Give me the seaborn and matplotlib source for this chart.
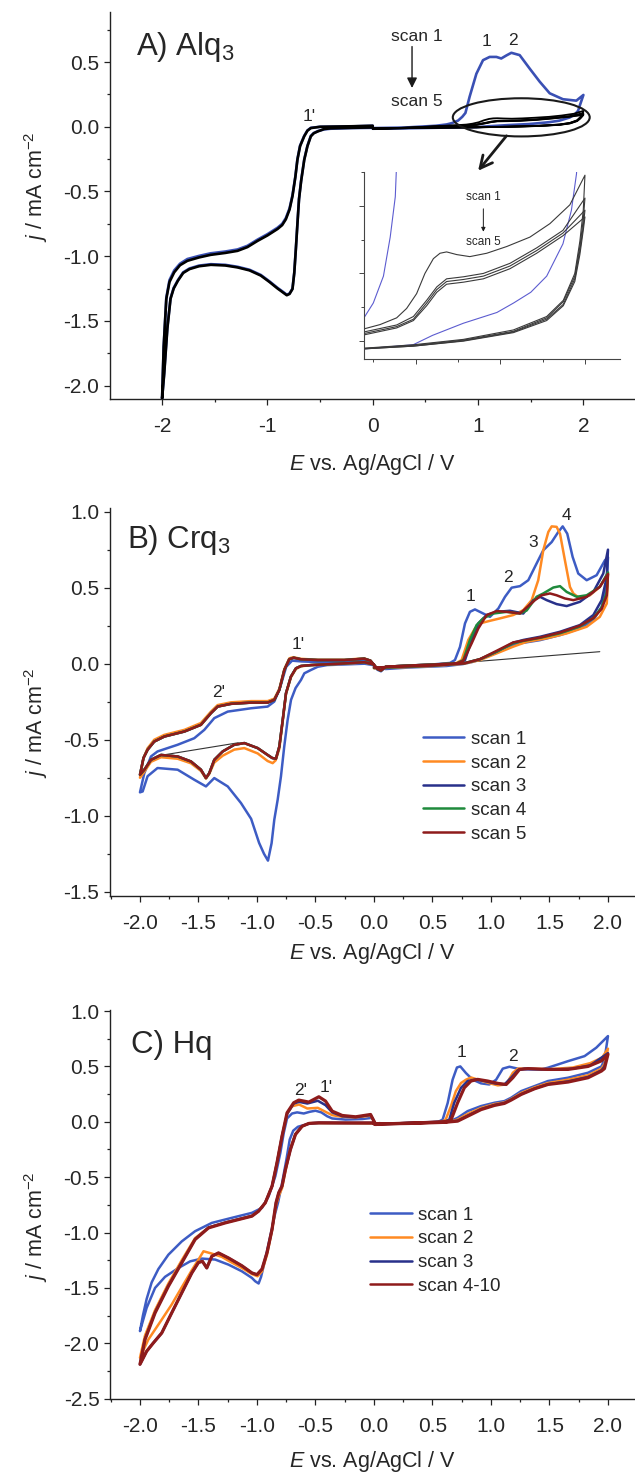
import numpy as np
import matplotlib
matplotlib.use("Agg")
import matplotlib.pyplot as plt
import seaborn as sns
from matplotlib.patches import Ellipse
from matplotlib.lines import Line2D
from matplotlib.ticker import MultipleLocator, FuncFormatter

# ------------------------------------------------------------------
# Cyclic voltammograms, (E / V vs Ag/AgCl, j / mA cm^-2) pairs.
# Each scan is stored as four sweeps: cathodic (0 -> -2 V),
# return (-2 -> 0 V), anodic (0 -> 2 V) and return (2 -> 0 V).
# ------------------------------------------------------------------

# ---------------- A) Alq3 ----------------
alq3_s1_cath = [(0.00, -0.008), (-0.20, -0.010), (-0.40, -0.015), (-0.46, -0.020), (-0.52, -0.033),
                (-0.56, -0.048), (-0.588, -0.070), (-0.62, -0.145), (-0.65, -0.250), (-0.68, -0.415),
                (-0.70, -0.555), (-0.715, -0.745), (-0.73, -0.940), (-0.745, -1.125), (-0.762, -1.250),
                (-0.790, -1.288), (-0.816, -1.298), (-0.840, -1.283), (-0.87, -1.265), (-0.904, -1.245),
                (-0.98, -1.195), (-1.063, -1.145), (-1.17, -1.105), (-1.284, -1.082), (-1.40, -1.067),
                (-1.537, -1.062), (-1.65, -1.073), (-1.740, -1.095), (-1.80, -1.125), (-1.850, -1.185),
                (-1.890, -1.245), (-1.920, -1.325), (-1.950, -1.550), (-1.980, -1.900), (-2.000, -2.100)]
alq3_s1_anod = [(-2.000, -2.100), (-1.985, -1.700), (-1.960, -1.320), (-1.930, -1.185), (-1.885, -1.110),
                (-1.83, -1.058), (-1.760, -1.022), (-1.65, -0.998), (-1.540, -0.978), (-1.40, -0.964),
                (-1.284, -0.948), (-1.19, -0.920), (-1.094, -0.872), (-1.0, -0.830), (-0.904, -0.780),
                (-0.86, -0.750), (-0.825, -0.705), (-0.79, -0.630), (-0.762, -0.528), (-0.735, -0.385),
                (-0.715, -0.248), (-0.69, -0.145), (-0.651, -0.070), (-0.62, -0.028), (-0.588, -0.008),
                (-0.50, 0.000), (-0.20, 0.003), (0.00, 0.008)]
alq3_s1_fwd = [(0.00, -0.010), (0.30, -0.006), (0.60, 0.008), (0.70, 0.018), (0.75, 0.028), (0.81, 0.048),
               (0.85, 0.077), (0.88, 0.107), (0.92, 0.233), (0.984, 0.410), (1.047, 0.515), (1.110, 0.540),
               (1.174, 0.540), (1.220, 0.528), (1.270, 0.552), (1.316, 0.572), (1.395, 0.554), (1.490, 0.450),
               (1.585, 0.349), (1.680, 0.259), (1.806, 0.213), (1.933, 0.202), (2.000, 0.246)]
alq3_s1_rev = [(2.000, 0.246), (1.960, 0.150), (1.950, 0.124), (1.920, 0.097), (1.870, 0.072), (1.774, 0.048),
               (1.680, 0.036), (1.578, 0.028), (1.480, 0.021), (1.282, 0.013), (1.100, 0.004), (0.985, -0.003),
               (0.700, -0.006), (0.300, -0.012), (0.000, -0.015)]

# scans 2-5 overlap in the cathodic region
alq3_late_cath = [(0.00, -0.005), (-0.20, -0.008), (-0.40, -0.012), (-0.46, -0.017), (-0.52, -0.035),
                  (-0.56, -0.050), (-0.588, -0.074), (-0.62, -0.150), (-0.65, -0.254), (-0.68, -0.420),
                  (-0.70, -0.560), (-0.715, -0.750), (-0.73, -0.946), (-0.745, -1.130), (-0.762, -1.254),
                  (-0.790, -1.292), (-0.816, -1.302), (-0.840, -1.288), (-0.87, -1.270), (-0.904, -1.250),
                  (-0.98, -1.200), (-1.063, -1.150), (-1.17, -1.110), (-1.284, -1.087), (-1.40, -1.072),
                  (-1.537, -1.067), (-1.65, -1.078), (-1.740, -1.100), (-1.80, -1.130), (-1.850, -1.190),
                  (-1.890, -1.250), (-1.920, -1.330), (-1.950, -1.560), (-1.980, -1.910), (-2.000, -2.100)]
alq3_late_anod = [(-2.000, -2.100), (-1.985, -1.700), (-1.960, -1.330), (-1.930, -1.200), (-1.885, -1.125),
                  (-1.83, -1.070), (-1.760, -1.036), (-1.65, -1.010), (-1.540, -0.990), (-1.40, -0.975),
                  (-1.284, -0.959), (-1.19, -0.930), (-1.094, -0.882), (-1.0, -0.840), (-0.904, -0.790),
                  (-0.86, -0.760), (-0.825, -0.715), (-0.79, -0.640), (-0.762, -0.536), (-0.735, -0.390),
                  (-0.715, -0.254), (-0.69, -0.150), (-0.651, -0.074), (-0.62, -0.030), (-0.588, -0.010),
                  (-0.50, 0.000), (-0.20, 0.004), (0.00, 0.008)]

alq3_s2_fwd = [(0.00, -0.014), (0.35, -0.006), (0.701, 0.009), (0.79, 0.012), (0.888, 0.017), (0.947, 0.024),
               (1.006, 0.035), (1.055, 0.050), (1.105, 0.061), (1.144, 0.065), (1.183, 0.066), (1.243, 0.064),
               (1.32, 0.0625), (1.42, 0.065), (1.538, 0.070), (1.675, 0.077), (1.793, 0.087), (1.911, 0.101),
               (2.0, 0.123)]
alq3_s2_rev = [(2.0, 0.123), (1.99, 0.097), (1.97, 0.074), (1.94, 0.050), (1.872, 0.030), (1.774, 0.018),
               (1.577, 0.008), (1.282, 0.001), (0.987, -0.003), (0.70, -0.0055), (0.35, -0.010), (0.0, -0.014)]
alq3_s3_fwd = [(0.00, -0.014), (0.35, -0.007), (0.701, 0.0067), (0.888, 0.0117), (0.987, 0.018), (1.065, 0.030),
               (1.125, 0.040), (1.183, 0.046), (1.282, 0.0475), (1.40, 0.050), (1.557, 0.0575), (1.715, 0.069),
               (1.87, 0.082), (2.0, 0.106)]
alq3_s3_rev = [(2.0, 0.106), (1.99, 0.090), (1.97, 0.070), (1.94, 0.048), (1.872, 0.029), (1.774, 0.017),
               (1.577, 0.007), (1.282, 0.0005), (0.987, -0.0035), (0.70, -0.0057), (0.35, -0.010), (0.0, -0.014)]
alq3_s4_fwd = [(0.00, -0.014), (0.35, -0.007), (0.701, 0.0055), (0.888, 0.0105), (0.987, 0.016), (1.065, 0.028),
               (1.125, 0.038), (1.183, 0.044), (1.282, 0.0455), (1.40, 0.048), (1.557, 0.0555), (1.715, 0.067),
               (1.87, 0.080), (2.0, 0.097)]
alq3_s4_rev = [(2.0, 0.097), (1.99, 0.085), (1.97, 0.067), (1.94, 0.046), (1.872, 0.027), (1.774, 0.016),
               (1.577, 0.0065), (1.282, 0.0), (0.987, -0.004), (0.70, -0.006), (0.35, -0.010), (0.0, -0.014)]
alq3_s5_fwd = [(0.00, -0.014), (0.35, -0.007), (0.701, 0.0045), (0.888, 0.0095), (0.987, 0.015), (1.065, 0.026),
               (1.125, 0.036), (1.183, 0.042), (1.282, 0.0435), (1.40, 0.046), (1.557, 0.0535), (1.715, 0.065),
               (1.87, 0.078), (2.0, 0.092)]
alq3_s5_rev = [(2.0, 0.092), (1.99, 0.082), (1.97, 0.064), (1.94, 0.044), (1.872, 0.026), (1.774, 0.015),
               (1.577, 0.006), (1.282, -0.0003), (0.987, -0.004), (0.70, -0.006), (0.35, -0.010), (0.0, -0.014)]

# ---------------- B) Crq3 ----------------
crq3_s1_cath = [(0.00, -0.010), (-0.08, 0.000), (-0.40, -0.009), (-0.48, -0.020), (-0.538, -0.041),
                (-0.595, -0.063), (-0.624, -0.107), (-0.67, -0.160), (-0.709, -0.238), (-0.738, -0.370),
                (-0.767, -0.545), (-0.795, -0.741), (-0.823, -0.894), (-0.852, -1.026), (-0.875, -1.180),
                (-0.906, -1.295), (-0.940, -1.250), (-0.982, -1.178), (-1.050, -1.020), (-1.137, -0.916),
                (-1.250, -0.807), (-1.365, -0.752), (-1.436, -0.807), (-1.536, -0.763), (-1.678, -0.697),
                (-1.850, -0.686), (-1.935, -0.740), (-1.977, -0.840), (-2.000, -0.846)]
crq3_s1_anod = [(-2.000, -0.846), (-1.963, -0.720), (-1.906, -0.610), (-1.850, -0.577), (-1.678, -0.533),
                (-1.536, -0.490), (-1.450, -0.435), (-1.365, -0.358), (-1.250, -0.315), (-1.050, -0.293),
                (-0.909, -0.282), (-0.852, -0.249), (-0.800, -0.150), (-0.750, -0.020), (-0.700, 0.020),
                (-0.620, 0.015), (-0.450, 0.010), (-0.250, 0.012), (-0.080, 0.020), (-0.030, 0.015),
                (0.030, -0.040), (0.060, -0.050)]
crq3_s1_fwd = [(0.10, -0.020), (0.30, -0.012), (0.50, -0.005), (0.65, 0.005), (0.692, 0.024), (0.735, 0.110),
               (0.778, 0.265), (0.820, 0.341), (0.863, 0.357), (0.934, 0.330), (0.991, 0.308), (1.063, 0.363),
               (1.120, 0.440), (1.177, 0.500), (1.248, 0.510), (1.319, 0.549), (1.390, 0.659), (1.447, 0.746),
               (1.519, 0.800), (1.575, 0.866), (1.613, 0.903), (1.652, 0.855), (1.698, 0.702), (1.746, 0.593),
               (1.818, 0.549), (1.903, 0.582), (1.974, 0.680), (2.000, 0.700)]
crq3_s1_rev = [(2.000, 0.700), (1.990, 0.527), (1.946, 0.374), (1.875, 0.287), (1.760, 0.232), (1.590, 0.188),
               (1.419, 0.155), (1.248, 0.134), (1.180, 0.120), (1.077, 0.090), (0.963, 0.046), (0.849, 0.013),
               (0.763, -0.002), (0.621, -0.015), (0.300, -0.025), (0.100, -0.035), (0.000, -0.020)]

crq3_s2_cath = [(0.00, -0.005), (-0.083, 0.008), (-0.30, -0.002), (-0.538, -0.010), (-0.624, -0.017),
                (-0.667, -0.035), (-0.71, -0.090), (-0.752, -0.200), (-0.78, -0.380), (-0.809, -0.560),
                (-0.84, -0.635), (-0.866, -0.654), (-0.909, -0.640), (-0.994, -0.590), (-1.108, -0.555),
                (-1.194, -0.565), (-1.293, -0.605), (-1.365, -0.650), (-1.408, -0.725), (-1.436, -0.755),
                (-1.479, -0.705), (-1.564, -0.655), (-1.678, -0.625), (-1.82, -0.615), (-1.906, -0.645),
                (-1.963, -0.710), (-2.0, -0.750)]
crq3_s2_anod = [(-2.0, -0.750), (-1.97, -0.620), (-1.935, -0.556), (-1.878, -0.500), (-1.792, -0.468),
                (-1.62, -0.435), (-1.479, -0.390), (-1.393, -0.315), (-1.336, -0.272), (-1.222, -0.254),
                (-1.05, -0.246), (-0.909, -0.246), (-0.852, -0.230), (-0.809, -0.165), (-0.766, -0.035),
                (-0.724, 0.035), (-0.69, 0.043), (-0.624, 0.032), (-0.48, 0.026), (-0.254, 0.026),
                (-0.083, 0.035), (-0.03, 0.020), (0.03, -0.035), (0.06, -0.045)]
crq3_s2_fwd = [(0.10, -0.020), (0.30, -0.012), (0.50, -0.006), (0.70, 0.003), (0.749, 0.024), (0.806, 0.156),
               (0.863, 0.232), (0.906, 0.265), (0.991, 0.282), (1.077, 0.298), (1.19, 0.320), (1.276, 0.352),
               (1.348, 0.418), (1.404, 0.549), (1.447, 0.746), (1.49, 0.866), (1.519, 0.903), (1.561, 0.900),
               (1.59, 0.855), (1.632, 0.680), (1.675, 0.505), (1.704, 0.462), (1.76, 0.429), (1.846, 0.450),
               (1.93, 0.505), (2.0, 0.590)]
crq3_s2_rev = [(2.0, 0.590), (1.99, 0.396), (1.93, 0.308), (1.818, 0.243), (1.647, 0.199), (1.476, 0.167),
               (1.305, 0.144), (1.19, 0.112), (1.049, 0.068), (0.906, 0.024), (0.77, 0.000), (0.5, -0.015),
               (0.2, -0.025), (0.0, -0.030)]

# scans 3-5 overlap in the cathodic region
crq3_late_cath = [(0.00, -0.005), (-0.083, 0.010), (-0.30, 0.000), (-0.538, -0.009), (-0.624, -0.015),
                  (-0.667, -0.030), (-0.71, -0.085), (-0.752, -0.194), (-0.78, -0.370), (-0.809, -0.545),
                  (-0.838, -0.625), (-0.87, -0.620), (-0.909, -0.600), (-0.994, -0.555), (-1.108, -0.522),
                  (-1.194, -0.533), (-1.293, -0.577), (-1.365, -0.632), (-1.408, -0.720), (-1.436, -0.752),
                  (-1.479, -0.697), (-1.564, -0.643), (-1.678, -0.610), (-1.82, -0.600), (-1.906, -0.632),
                  (-1.963, -0.697), (-2.0, -0.730)]
crq3_late_anod = [(-2.0, -0.730), (-1.97, -0.620), (-1.935, -0.566), (-1.878, -0.512), (-1.792, -0.479),
                  (-1.62, -0.446), (-1.479, -0.402), (-1.393, -0.325), (-1.336, -0.282), (-1.222, -0.264),
                  (-1.05, -0.256), (-0.909, -0.256), (-0.852, -0.238), (-0.809, -0.173), (-0.766, -0.041),
                  (-0.724, 0.029), (-0.686, 0.039), (-0.624, 0.029), (-0.48, 0.024), (-0.254, 0.024),
                  (-0.083, 0.033), (-0.03, 0.020), (0.03, -0.035), (0.06, -0.045)]

crq3_s3_fwd = [(0.10, -0.020), (0.30, -0.012), (0.50, -0.006), (0.72, 0.003), (0.778, 0.024), (0.835, 0.156),
               (0.892, 0.265), (0.963, 0.320), (1.049, 0.341), (1.162, 0.348), (1.276, 0.330), (1.362, 0.418),
               (1.419, 0.440), (1.476, 0.418), (1.561, 0.392), (1.647, 0.379), (1.76, 0.407), (1.875, 0.472),
               (1.96, 0.593), (2.0, 0.750)]
crq3_s3_rev = [(2.0, 0.750), (1.99, 0.571), (1.946, 0.418), (1.875, 0.320), (1.76, 0.254), (1.59, 0.210),
               (1.419, 0.177), (1.276, 0.156), (1.19, 0.138), (1.049, 0.079), (0.906, 0.029), (0.77, 0.003),
               (0.5, -0.012), (0.2, -0.022), (0.0, -0.028)]
crq3_s4_fwd = [(0.10, -0.020), (0.30, -0.012), (0.50, -0.006), (0.71, 0.003), (0.764, 0.024), (0.82, 0.156),
               (0.877, 0.254), (0.934, 0.298), (1.02, 0.330), (1.134, 0.341), (1.248, 0.330), (1.305, 0.350),
               (1.39, 0.440), (1.447, 0.462), (1.533, 0.501), (1.59, 0.510), (1.647, 0.472), (1.733, 0.440),
               (1.818, 0.450), (1.93, 0.505), (2.0, 0.600)]
crq3_s4_rev = [(2.0, 0.600), (1.99, 0.470), (1.946, 0.370), (1.875, 0.300), (1.76, 0.245), (1.59, 0.200),
               (1.419, 0.170), (1.276, 0.150), (1.19, 0.135), (1.049, 0.080), (0.906, 0.030), (0.77, 0.003),
               (0.5, -0.012), (0.2, -0.022), (0.0, -0.028)]
crq3_s5_fwd = [(0.10, -0.020), (0.30, -0.012), (0.50, -0.006), (0.71, 0.002), (0.764, 0.020), (0.835, 0.134),
               (0.892, 0.232), (0.963, 0.320), (1.049, 0.346), (1.148, 0.340), (1.248, 0.330), (1.376, 0.418),
               (1.433, 0.450), (1.504, 0.462), (1.561, 0.450), (1.632, 0.429), (1.704, 0.418), (1.818, 0.440),
               (1.93, 0.505), (2.0, 0.590)]
crq3_s5_rev = [(2.0, 0.590), (1.99, 0.450), (1.946, 0.360), (1.875, 0.300), (1.76, 0.250), (1.59, 0.205),
               (1.419, 0.172), (1.276, 0.152), (1.19, 0.140), (1.049, 0.085), (0.906, 0.030), (0.77, 0.002),
               (0.5, -0.012), (0.2, -0.020), (0.0, -0.025)]

# background lines
crq3_base_ox = [(0.72, 0.005), (1.93, 0.079)]
crq3_base_red = [(-1.80, -0.600), (-1.16, -0.520)]

# ---------------- C) Hq ----------------
hq_s1_cath = [(0.00, -0.015), (-0.30, -0.012), (-0.53, -0.012), (-0.60, -0.030), (-0.65, -0.045), (-0.69, -0.080),
              (-0.72, -0.160), (-0.75, -0.350), (-0.79, -0.580), (-0.82, -0.730), (-0.845, -0.830), (-0.886, -1.030),
              (-0.929, -1.240), (-0.965, -1.400), (-0.986, -1.460), (-1.015, -1.440), (-1.043, -1.410),
              (-1.129, -1.350), (-1.243, -1.290), (-1.357, -1.244), (-1.471, -1.235), (-1.571, -1.260),
              (-1.671, -1.320), (-1.786, -1.400), (-1.871, -1.500), (-1.943, -1.680), (-2.000, -1.890)]
hq_s1_anod = [(-2.000, -1.890), (-1.975, -1.750), (-1.943, -1.600), (-1.900, -1.450), (-1.843, -1.330),
              (-1.757, -1.200), (-1.643, -1.080), (-1.529, -0.988), (-1.386, -0.913), (-1.214, -0.867),
              (-1.043, -0.822), (-0.957, -0.777), (-0.900, -0.672), (-0.843, -0.491), (-0.800, -0.280),
              (-0.771, -0.100), (-0.743, 0.030), (-0.700, 0.075), (-0.657, 0.085), (-0.600, 0.075),
              (-0.550, 0.090), (-0.500, 0.100), (-0.450, 0.085), (-0.400, 0.050), (-0.357, 0.030),
              (-0.243, 0.020), (-0.100, 0.025), (-0.014, 0.036), (0.015, -0.025), (0.050, -0.015)]
hq_s1_fwd = [(0.05, -0.020), (0.30, -0.010), (0.55, 0.000), (0.587, 0.020), (0.63, 0.170), (0.672, 0.380),
             (0.709, 0.490), (0.738, 0.500), (0.786, 0.440), (0.844, 0.380), (0.915, 0.347), (0.986, 0.337),
             (1.044, 0.380), (1.101, 0.480), (1.158, 0.497), (1.258, 0.473), (1.43, 0.473), (1.486, 0.488),
             (1.66, 0.548), (1.80, 0.593), (1.90, 0.669), (2.0, 0.774)]
hq_s1_rev = [(2.0, 0.774), (1.97, 0.560), (1.944, 0.500), (1.83, 0.443), (1.659, 0.398), (1.487, 0.368),
             (1.372, 0.322), (1.258, 0.277), (1.172, 0.217), (1.115, 0.187), (1.03, 0.172), (0.915, 0.142),
             (0.80, 0.096), (0.715, 0.036), (0.65, 0.005), (0.40, -0.010), (0.10, -0.020), (0.0, -0.020)]

hq_s2_cath = [(0.00, -0.015), (-0.30, -0.012), (-0.55, -0.012), (-0.614, -0.040), (-0.671, -0.110),
              (-0.714, -0.240), (-0.757, -0.450), (-0.786, -0.600), (-0.810, -0.660), (-0.837, -0.750),
              (-0.871, -0.980), (-0.914, -1.200), (-0.957, -1.350), (-0.995, -1.395), (-1.043, -1.375),
              (-1.129, -1.320), (-1.243, -1.255), (-1.300, -1.220), (-1.386, -1.190), (-1.457, -1.169),
              (-1.500, -1.244), (-1.557, -1.340), (-1.671, -1.545), (-1.729, -1.650), (-1.814, -1.786),
              (-1.929, -1.967), (-2.000, -2.130)]
hq_s2_anod = [(-2.000, -2.130), (-1.957, -1.930), (-1.871, -1.700), (-1.757, -1.460), (-1.643, -1.250),
              (-1.529, -1.050), (-1.414, -0.955), (-1.271, -0.910), (-1.043, -0.850), (-0.986, -0.805),
              (-0.929, -0.730), (-0.871, -0.580), (-0.829, -0.370), (-0.786, -0.130), (-0.743, 0.070),
              (-0.700, 0.140), (-0.640, 0.156), (-0.570, 0.120), (-0.480, 0.126), (-0.414, 0.090),
              (-0.357, 0.060), (-0.271, 0.045), (-0.157, 0.040), (-0.029, 0.055), (0.015, -0.025), (0.050, -0.015)]
hq_s2_fwd = [(0.05, -0.020), (0.30, -0.010), (0.58, 0.000), (0.613, 0.020), (0.658, 0.142), (0.70, 0.277),
             (0.744, 0.350), (0.786, 0.380), (0.83, 0.400), (0.90, 0.377), (0.972, 0.353), (1.058, 0.329),
             (1.13, 0.337), (1.187, 0.443), (1.23, 0.480), (1.316, 0.480), (1.5, 0.475), (1.7, 0.490),
             (1.85, 0.530), (1.95, 0.580), (2.0, 0.660)]
hq_s2_rev = [(2.0, 0.660), (1.97, 0.520), (1.944, 0.480), (1.83, 0.420), (1.659, 0.380), (1.487, 0.350),
             (1.372, 0.310), (1.258, 0.260), (1.172, 0.205), (1.115, 0.175), (1.03, 0.160), (0.915, 0.125),
             (0.80, 0.070), (0.715, 0.020), (0.65, 0.000), (0.40, -0.010), (0.0, -0.020)]

# scans 3 and 4-10 overlap in the cathodic sweep
hq_late_cath = [(0.00, -0.010), (-0.30, -0.010), (-0.471, -0.009), (-0.557, -0.015), (-0.614, -0.040),
                (-0.671, -0.114), (-0.714, -0.250), (-0.757, -0.430), (-0.786, -0.580), (-0.814, -0.640),
                (-0.837, -0.730), (-0.871, -0.970), (-0.914, -1.180), (-0.957, -1.330), (-1.000, -1.380),
                (-1.043, -1.365), (-1.129, -1.300), (-1.243, -1.230), (-1.329, -1.184), (-1.386, -1.214),
                (-1.429, -1.320), (-1.466, -1.260), (-1.500, -1.270), (-1.557, -1.365), (-1.643, -1.545),
                (-1.729, -1.726), (-1.814, -1.907), (-1.886, -1.997), (-1.943, -2.072), (-2.000, -2.190)]
hq_s3_anod = [(-2.000, -2.190), (-1.957, -1.960), (-1.871, -1.720), (-1.757, -1.480), (-1.643, -1.270),
              (-1.529, -1.060), (-1.414, -0.955), (-1.271, -0.910), (-1.043, -0.850), (-0.986, -0.805),
              (-0.929, -0.730), (-0.871, -0.580), (-0.829, -0.370), (-0.786, -0.130), (-0.743, 0.070),
              (-0.686, 0.165), (-0.640, 0.180), (-0.570, 0.165), (-0.480, 0.190), (-0.414, 0.150),
              (-0.357, 0.085), (-0.271, 0.050), (-0.157, 0.042), (-0.029, 0.062), (0.015, -0.025), (0.050, -0.015)]
hq_late_anod = [(-2.000, -2.190), (-1.957, -1.967), (-1.871, -1.726), (-1.757, -1.485), (-1.643, -1.274),
                (-1.529, -1.063), (-1.414, -0.958), (-1.271, -0.913), (-1.043, -0.852), (-0.986, -0.807),
                (-0.929, -0.732), (-0.871, -0.581), (-0.829, -0.370), (-0.786, -0.130), (-0.743, 0.081),
                (-0.686, 0.172), (-0.643, 0.196), (-0.557, 0.178), (-0.471, 0.226), (-0.414, 0.187),
                (-0.357, 0.096), (-0.271, 0.057), (-0.157, 0.045), (-0.029, 0.066), (0.015, -0.025), (0.050, -0.015)]
hq_s3_fwd = [(0.05, -0.020), (0.30, -0.010), (0.60, 0.000), (0.644, 0.020), (0.686, 0.172), (0.744, 0.307),
             (0.80, 0.368), (0.872, 0.383), (0.944, 0.368), (1.03, 0.347), (1.115, 0.337), (1.172, 0.398),
             (1.23, 0.467), (1.287, 0.480), (1.5, 0.470), (1.7, 0.480), (1.85, 0.510), (2.0, 0.620)]
hq_s3_rev = [(2.0, 0.620), (1.97, 0.500), (1.944, 0.465), (1.83, 0.405), (1.659, 0.365), (1.487, 0.340),
             (1.372, 0.300), (1.258, 0.250), (1.172, 0.200), (1.115, 0.170), (1.03, 0.152), (0.915, 0.115),
             (0.80, 0.055), (0.715, 0.010), (0.60, -0.005), (0.30, -0.012), (0.0, -0.020)]
hq_late_fwd = [(0.05, -0.020), (0.30, -0.012), (0.62, 0.000), (0.658, 0.015), (0.715, 0.172), (0.772, 0.307),
               (0.829, 0.368), (0.886, 0.383), (0.972, 0.368), (1.058, 0.347), (1.13, 0.337), (1.187, 0.398),
               (1.244, 0.473), (1.316, 0.480), (1.487, 0.473), (1.659, 0.473), (1.83, 0.500), (1.944, 0.550),
               (2.0, 0.610)]
hq_late_rev = [(2.0, 0.610), (1.97, 0.480), (1.944, 0.458), (1.83, 0.398), (1.659, 0.359), (1.487, 0.337),
               (1.372, 0.298), (1.258, 0.247), (1.172, 0.196), (1.115, 0.166), (1.03, 0.148), (0.915, 0.110),
               (0.80, 0.050), (0.715, 0.006), (0.60, -0.005), (0.30, -0.015), (0.0, -0.020)]

# ------------------------------------------------------------------
BLUE_A = "#3a50b4"
COLORS = {"scan 1": "#3d5cc4", "scan 2": "#ff8a22", "scan 3": "#28308a",
          "scan 4": "#1f8a3c", "scan 5": "#8e1b1b"}

sns.set_theme(style="ticks")
plt.rcParams["font.family"] = ["Liberation Sans", "DejaVu Sans"]
plt.rcParams["mathtext.fontset"] = "custom"
plt.rcParams["mathtext.rm"] = "Liberation Sans"
plt.rcParams["mathtext.it"] = "Liberation Sans:italic"
plt.rcParams["mathtext.default"] = "regular"
plt.rcParams["axes.unicode_minus"] = False
plt.rcParams["axes.facecolor"] = "white"
plt.rcParams["figure.facecolor"] = "white"


def trace(ax, sweeps, color, lw, zorder=2):
    pts = np.vstack([np.asarray(s, dtype=float) for s in sweeps])
    sns.lineplot(x=pts[:, 0], y=pts[:, 1], sort=False, estimator=None,
                 color=color, linewidth=lw, ax=ax, zorder=zorder)


def fmt(decimals):
    def f(v, pos):
        s = f"{v:.{decimals}f}"
        return s[1:] if s in ("-0", "-0.0") else s
    return FuncFormatter(f)


def frame(ax, xlim, ylim, xstep, ystep, xdec, ylab_y, xlab_y):
    ax.set_xlim(*xlim)
    ax.set_ylim(*ylim)
    ax.xaxis.set_major_locator(MultipleLocator(xstep))
    ax.xaxis.set_minor_locator(MultipleLocator(xstep / 2))
    ax.yaxis.set_major_locator(MultipleLocator(ystep))
    ax.yaxis.set_minor_locator(MultipleLocator(ystep / 2))
    ax.xaxis.set_major_formatter(fmt(xdec))
    ax.yaxis.set_major_formatter(fmt(1))
    sns.despine(ax=ax)
    for s in ("left", "bottom"):
        ax.spines[s].set_linewidth(1.0)
        ax.spines[s].set_color("#222222")
    ax.tick_params(which="both", direction="out", color="#222222", width=0.9)
    ax.tick_params(which="major", length=4.5, labelsize=15)
    ax.tick_params(which="minor", length=2.5)
    ax.tick_params(axis="x", pad=8.5)
    ax.tick_params(axis="y", pad=3.5)
    ax.set_xlabel("$\\mathit{E}$ vs. Ag/AgCl / V", fontsize=15.5)
    ax.set_ylabel("$\\mathit{j}$ / mA cm$^{-2}$", fontsize=15.5)
    ax.yaxis.set_label_coords(-0.115, ylab_y)
    ax.xaxis.set_label_coords(0.5, xlab_y)


fig = plt.figure(figsize=(6.35, 14.75), dpi=100)

# ======================= panel A =======================
axA = fig.add_axes([0.174, 0.7295, 0.826, 0.2626])
trace(axA, [alq3_s1_cath, alq3_s1_anod, alq3_s1_fwd, alq3_s1_rev], BLUE_A, 1.9)
trace(axA, [alq3_late_cath, alq3_late_anod], "black", 1.9, zorder=3)
for fwd, rev in [(alq3_s2_fwd, alq3_s2_rev), (alq3_s3_fwd, alq3_s3_rev),
                 (alq3_s4_fwd, alq3_s4_rev), (alq3_s5_fwd, alq3_s5_rev)]:
    trace(axA, [fwd, rev], "black", 1.3, zorder=3)
frame(axA, (-2.49, 2.49), (-2.104, 0.89), 1.0, 0.5, 0, 0.547, -0.137)
axA.text(-2.247, 0.557, "A) Alq$_{3}$", fontsize=22.5, ha="left", va="baseline")
axA.text(-0.60, 0.08, "1'", fontsize=12.5, ha="center", va="center")
axA.text(1.08, 0.656, "1", fontsize=12.5, ha="center", va="center")
axA.text(1.33, 0.67, "2", fontsize=12.5, ha="center", va="center")
axA.text(0.415, 0.695, "scan 1", fontsize=12.5, ha="center", va="center")
axA.text(0.415, 0.195, "scan 5", fontsize=12.5, ha="center", va="center")
axA.annotate("", xy=(0.373, 0.30), xytext=(0.373, 0.62),
             arrowprops=dict(arrowstyle="-|>", lw=1.0, color="k", mutation_scale=15, shrinkA=0, shrinkB=0))
axA.add_patch(Ellipse((1.41, 0.073), width=1.30, height=0.295, fill=False, lw=1.5, ec="k", zorder=4))
axA.annotate("", xy=(1.0, -0.34), xytext=(1.27, -0.07),
             arrowprops=dict(arrowstyle="->", lw=2.0, color="k", mutation_scale=22, shrinkA=0, shrinkB=0))

# inset: magnified oxidation region of scans 2-5
axI = fig.add_axes([0.5737, 0.7564, 0.4027, 0.1272])
trace(axI, [alq3_s1_fwd, alq3_s1_rev], "#5c5cd0", 0.8)
for fwd, rev in [(alq3_s2_fwd, alq3_s2_rev), (alq3_s3_fwd, alq3_s3_rev),
                 (alq3_s4_fwd, alq3_s4_rev), (alq3_s5_fwd, alq3_s5_rev)]:
    trace(axI, [fwd, rev], "#3a3a3a", 0.8)
axI.set_xlim(0.697, 2.207)
axI.set_ylim(-0.0138, 0.1256)
axI.xaxis.set_major_locator(MultipleLocator(0.5))
axI.xaxis.set_minor_locator(MultipleLocator(0.25))
axI.yaxis.set_major_locator(MultipleLocator(0.05))
axI.yaxis.set_minor_locator(MultipleLocator(0.025))
axI.tick_params(which="both", labelbottom=False, labelleft=False)
sns.despine(ax=axI)
for s in ("left", "bottom"):
    axI.spines[s].set_linewidth(0.8)
    axI.spines[s].set_color("#444444")
axI.tick_params(which="both", direction="out", color="#444444", width=0.7)
axI.tick_params(which="major", length=3.5)
axI.tick_params(which="minor", length=2.0)
axI.set_xlabel("")
axI.set_ylabel("")
axI.text(1.40, 0.107, "scan 1", fontsize=8.5, ha="center", va="center")
axI.text(1.40, 0.0736, "scan 5", fontsize=8.5, ha="center", va="center")
axI.annotate("", xy=(1.40, 0.081), xytext=(1.40, 0.098),
             arrowprops=dict(arrowstyle="-|>", lw=0.7, color="k", mutation_scale=6, shrinkA=0, shrinkB=0))

# ======================= panel B =======================
axB = fig.add_axes([0.174, 0.3925, 0.826, 0.2629])
trace(axB, [crq3_base_ox], "#333333", 0.8)
trace(axB, [crq3_base_red], "#333333", 0.8)
trace(axB, [crq3_s1_cath, crq3_s1_anod, crq3_s1_fwd, crq3_s1_rev], COLORS["scan 1"], 1.8)
trace(axB, [crq3_s2_cath, crq3_s2_anod, crq3_s2_fwd, crq3_s2_rev], COLORS["scan 2"], 1.8)
trace(axB, [crq3_late_cath, crq3_late_anod, crq3_s3_fwd, crq3_s3_rev], COLORS["scan 3"], 1.8)
trace(axB, [crq3_late_cath, crq3_late_anod, crq3_s4_fwd, crq3_s4_rev], COLORS["scan 4"], 1.8)
trace(axB, [crq3_late_cath, crq3_late_anod, crq3_s5_fwd, crq3_s5_rev], COLORS["scan 5"], 1.8)
frame(axB, (-2.252, 2.231), (-1.528, 1.022), 0.5, 0.5, 1, 0.446, -0.116)
axB.text(-2.107, 0.764, "B) Crq$_{3}$", fontsize=22.5, ha="left", va="baseline")
for s, x, y in [("1", 0.825, 0.44), ("2", 1.149, 0.567), ("3", 1.357, 0.794), ("4", 1.647, 0.976),
                ("1'", -0.652, 0.123), ("2'", -1.33, -0.19)]:
    axB.text(x, y, s, fontsize=12.5, ha="center", va="center")
handles = [Line2D([], [], color=COLORS[k], lw=1.8) for k in COLORS]
axB.legend(handles, list(COLORS), loc="upper left", bbox_to_anchor=(0.596, 0.426), frameon=False,
           fontsize=13.5, handlelength=2.2, handletextpad=0.35, labelspacing=0.35,
           borderpad=0, borderaxespad=0)

# ======================= panel C =======================
axC = fig.add_axes([0.174, 0.0513, 0.826, 0.2640])
trace(axC, [hq_s1_cath, hq_s1_anod, hq_s1_fwd, hq_s1_rev], COLORS["scan 1"], 1.8)
trace(axC, [hq_s2_cath, hq_s2_anod, hq_s2_fwd, hq_s2_rev], COLORS["scan 2"], 1.8)
trace(axC, [hq_late_cath, hq_s3_anod, hq_s3_fwd, hq_s3_rev], COLORS["scan 3"], 1.8)
trace(axC, [hq_late_cath, hq_late_anod, hq_late_fwd, hq_late_rev], COLORS["scan 5"], 2.3)
frame(axC, (-2.252, 2.231), (-2.506, 1.01), 0.5, 0.5, 1, 0.443, -0.128)
axC.text(-2.073, 0.624, "C) Hq", fontsize=22.5, ha="left", va="baseline")
for s, x, y in [("1", 0.748, 0.624), ("2", 1.19, 0.593), ("2'", -0.625, 0.283), ("1'", -0.405, 0.307)]:
    axC.text(x, y, s, fontsize=12.5, ha="center", va="center")
c_labels = ["scan 1", "scan 2", "scan 3", "scan 4-10"]
c_colors = [COLORS["scan 1"], COLORS["scan 2"], COLORS["scan 3"], COLORS["scan 5"]]
handles = [Line2D([], [], color=c, lw=1.8) for c in c_colors]
axC.legend(handles, c_labels, loc="upper left", bbox_to_anchor=(0.4955, 0.495), frameon=False,
           fontsize=13.5, handlelength=2.2, handletextpad=0.35, labelspacing=0.35,
           borderpad=0, borderaxespad=0)

fig.savefig("out.png", dpi=100)
